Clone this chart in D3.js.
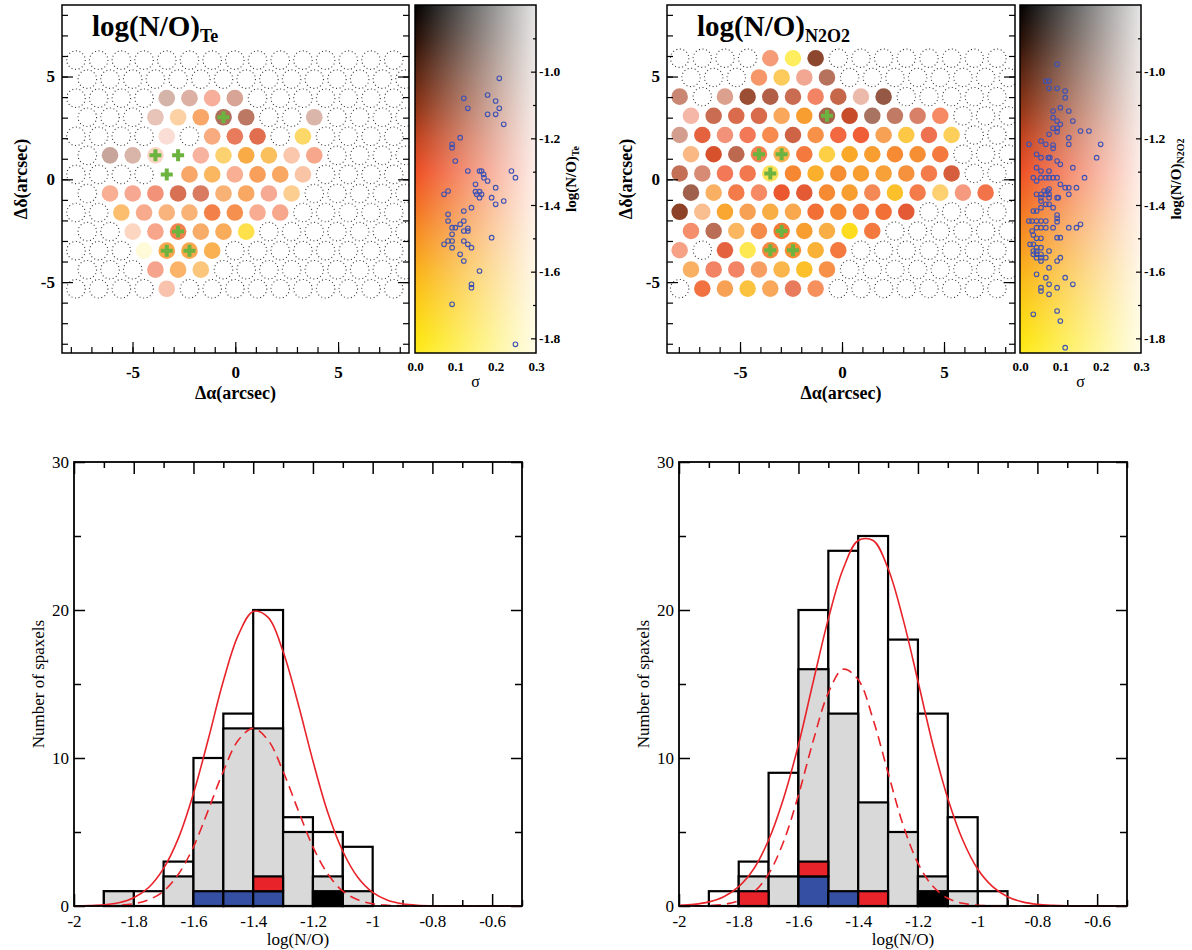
<!DOCTYPE html>
<html><head><meta charset="utf-8">
<script src="https://cdn.jsdelivr.net/npm/d3@7"></script>
<style>body{margin:0;background:#fff}svg{display:block}</style>
</head><body>
<svg id="chart" width="1192" height="950"></svg>
<script>
// ---------------- DATA ----------------
// Spaxel maps: [row, col, log(N/O), sigma]
const teSpaxels = [
 [2,4,-1.10,.21],[2,5,-1.15,.20],[2,6,-1.30,.18],[2,7,-1.15,.18],
 [3,3,-1.17,.23],[3,4,-1.49,.20],[3,5,-1.44,.11],[3,6,-1.10,.10],[3,7,-1.13,.11],[3,10,-1.13,.21],
 [4,4,-1.28,.27],[4,6,-1.40,.14],[4,7,-1.27,.09],[4,8,-1.25,.07],[4,10,-1.66,.12],
 [5,1,-1.07,.19],[5,2,-1.12,.21],[5,3,-1.35,.25],[5,5,-1.30,.19],[5,6,-1.61,.13],[5,7,-1.52,.06],[5,8,-1.56,.10],[5,9,-1.38,.21],[5,10,-1.33,.16],
 [6,5,-1.44,.11],[6,6,-1.52,.10],[6,7,-1.34,.17],[6,8,-1.44,.09],[6,9,-1.46,.10],[6,10,-1.40,.20],
 [7,1,-1.34,.17],[7,2,-1.30,.17],[7,3,-1.29,.13],[7,4,-1.22,.08],[7,5,-1.21,.10],[7,6,-1.45,.13],[7,7,-1.46,.10],[7,8,-1.31,.17],[7,9,-1.53,.17],
 [8,2,-1.52,.12],[8,3,-1.35,.16],[8,4,-1.44,.14],[8,5,-1.46,.13],[8,6,-1.37,.06],[8,7,-1.41,.07],[8,8,-1.33,.17],[8,9,-1.33,.16],
 [9,2,-1.40,.24],[9,3,-1.32,.16],[9,4,-1.36,.07],[9,5,-1.46,.11],[9,6,-1.49,.09],[9,7,-1.74,.08],
 [10,3,-1.82,.28],[10,4,-1.50,.07],[10,5,-1.50,.07],[10,6,-1.52,.08],
 [11,3,-1.30,.16],[11,4,-1.49,.11],[11,5,-1.53,.14],
 [12,4,-1.34,.21]
];
const n2o2Spaxels = [
 [0,4,-1.34,.13],[0,5,-1.80,.11],[0,6,-1.07,.04],
 [1,3,-1.37,.11],[1,4,-1.61,.10],[1,5,-1.28,.17],[1,6,-1.12,.10],
 [2,0,-1.15,.13],[2,2,-1.18,.17],[2,3,-1.10,.045],[2,4,-1.13,.07],[2,5,-1.18,.08],[2,6,-1.30,.10],[2,7,-1.18,.07],[2,8,-1.22,.21],[2,9,-1.06,.07],
 [3,0,-1.28,.20],[3,1,-1.18,.08],[3,2,-1.23,.07],[3,3,-1.22,.07],[3,4,-1.47,.09],[3,5,-1.51,.03],[3,6,-1.10,.08],[3,7,-1.20,.02],[3,8,-1.07,.11],[3,9,-1.14,.11],[3,10,-1.21,.11],[3,11,-1.33,.10],
 [4,0,-1.15,.17],[4,1,-1.27,.045],[4,2,-1.29,.13],[4,3,-1.30,.08],[4,4,-1.39,.07],[4,5,-1.20,.06],[4,6,-1.43,.06],[4,7,-1.31,.045],[4,8,-1.30,.03],[4,9,-1.46,.08],[4,10,-1.63,.07],[4,11,-1.29,.07],[4,12,-1.63,.10],
 [5,0,-1.45,.15],[5,1,-1.24,.02],[5,2,-1.15,.08],[5,3,-1.36,.07],[5,4,-1.52,.08],[5,5,-1.37,.045],[5,6,-1.66,.07],[5,7,-1.55,.02],[5,8,-1.51,.03],[5,9,-1.45,.03],[5,10,-1.46,.03],[5,11,-1.37,.045],
 [6,0,-1.16,.09],[6,1,-1.19,.13],[6,2,-1.30,.08],[6,3,-1.32,.07],[6,4,-1.72,.10],[6,5,-1.44,.03],[6,6,-1.57,.03],[6,7,-1.46,.03],[6,8,-1.51,.03],[6,9,-1.51,.04],[6,10,-1.45,.045],[6,11,-1.35,.06],[6,12,-1.23,.045],
 [7,0,-1.08,.08],[7,1,-1.49,.10],[7,2,-1.35,.06],[7,3,-1.33,.10],[7,4,-1.29,.02],[7,5,-1.27,.03],[7,6,-1.45,.03],[7,7,-1.51,.03],[7,8,-1.37,.08],[7,9,-1.63,.03],[7,10,-1.35,.06],[7,11,-1.60,.13],[7,12,-1.31,.14],[7,13,-1.32,.06],
 [8,0,-1.08,.03],[8,1,-1.44,.17],[8,2,-1.54,.03],[8,3,-1.46,.08],[8,4,-1.53,.06],[8,5,-1.50,.07],[8,6,-1.36,.03],[8,7,-1.44,.03],[8,8,-1.37,.045],[8,9,-1.36,.03],[8,10,-1.27,.03],
 [9,0,-1.33,.11],[9,1,-1.14,.09],[9,2,-1.52,.10],[9,3,-1.41,.06],[9,4,-1.39,.03],[9,5,-1.51,.03],[9,6,-1.53,.06],[9,7,-1.75,.02],[9,8,-1.37,.045],
 [10,0,-1.32,.15],[10,2,-1.27,.045],[10,3,-1.78,.09],[10,4,-1.42,.045],[10,5,-1.46,.03],[10,6,-1.56,.045],[10,7,-1.37,.045],
 [11,0,-1.49,.10],[11,1,-1.30,.10],[11,2,-1.30,.10],[11,3,-1.42,.10],[11,4,-1.55,.07],[11,5,-1.63,.03],[11,6,-1.43,.06],
 [12,1,-1.34,.045],[12,2,-1.46,.08],[12,3,-1.61,.06],[12,4,-1.47,.09],[12,5,-1.27,.09],[12,6,-1.38,.09]
];
// spaxels marked with a green cross: [row, col]
const markedSpaxels = [[3,6],[5,3],[5,4],[6,4],[9,4],[10,4],[10,5]];

// colour-bar scatter: [sigma, log(N/O)]
const teScatter = [
 [.209,-1.02],[.121,-1.08],[.180,-1.07],[.200,-1.088],[.131,-1.11],[.209,-1.11],[.180,-1.128],[.200,-1.128],[.220,-1.158],
 [.112,-1.198],[.092,-1.218],[.092,-1.228],[.100,-1.268],[.131,-1.298],[.160,-1.298],[.165,-1.298],[.170,-1.308],[.171,-1.318],
 [.180,-1.328],[.239,-1.298],[.249,-1.318],[.150,-1.338],[.200,-1.348],[.082,-1.358],[.072,-1.368],[.150,-1.36],[.160,-1.36],
 [.165,-1.368],[.153,-1.368],[.160,-1.378],[.190,-1.378],[.200,-1.398],[.220,-1.388],[.140,-1.408],[.121,-1.418],[.082,-1.428],
 [.082,-1.448],[.121,-1.448],[.112,-1.458],[.100,-1.468],[.092,-1.468],[.131,-1.47],[.131,-1.478],[.121,-1.478],[.092,-1.488],
 [.190,-1.498],[.082,-1.508],[.092,-1.508],[.121,-1.508],[.072,-1.518],[.131,-1.518],[.092,-1.528],[.140,-1.528],[.112,-1.548],
 [.121,-1.568],[.160,-1.598],[.140,-1.638],[.140,-1.648],[.092,-1.698],[.249,-1.818]
];
const n2o2Scatter = [
 [.092,-0.978],[.064,-1.028],[.072,-1.028],[.072,-1.05],[.092,-1.05],[.112,-1.058],[.112,-1.078],[.100,-1.108],[.121,-1.118],
 [.082,-1.118],[.082,-1.138],[.092,-1.148],[.100,-1.158],[.131,-1.148],[.082,-1.17],[.092,-1.18],[.092,-1.17],[.072,-1.188],
 [.150,-1.178],[.171,-1.178],[.121,-1.198],[.121,-1.218],[.022,-1.218],[.052,-1.208],[.064,-1.218],[.082,-1.22],[.082,-1.23],
 [.200,-1.218],[.041,-1.248],[.052,-1.258],[.070,-1.258],[.074,-1.258],[.190,-1.258],[.092,-1.268],[.100,-1.278],[.041,-1.288],
 [.052,-1.298],[.072,-1.298],[.131,-1.288],[.033,-1.318],[.052,-1.318],[.064,-1.318],[.072,-1.318],[.082,-1.318],[.092,-1.318],
 [.041,-1.328],[.160,-1.318],[.100,-1.338],[.112,-1.348],[.121,-1.348],[.140,-1.348],[.060,-1.358],[.068,-1.358],[.072,-1.352],
 [.041,-1.368],[.052,-1.368],[.064,-1.368],[.072,-1.368],[.052,-1.378],[.072,-1.378],[.092,-1.378],[.095,-1.378],[.121,-1.368],
 [.052,-1.388],[.072,-1.398],[.064,-1.398],[.052,-1.408],[.082,-1.408],[.033,-1.418],[.041,-1.418],[.092,-1.43],[.092,-1.44],
 [.092,-1.45],[.030,-1.448],[.041,-1.448],[.052,-1.448],[.022,-1.448],[.064,-1.448],[.052,-1.468],[.064,-1.468],[.041,-1.468],
 [.082,-1.468],[.121,-1.468],[.140,-1.468],[.150,-1.458],[.030,-1.478],[.033,-1.49],[.041,-1.50],[.052,-1.50],[.092,-1.498],
 [.100,-1.498],[.025,-1.518],[.033,-1.518],[.041,-1.528],[.052,-1.528],[.033,-1.538],[.041,-1.538],[.072,-1.538],[.033,-1.548],
 [.041,-1.548],[.052,-1.548],[.041,-1.558],[.052,-1.558],[.100,-1.558],[.064,-1.558],[.092,-1.568],[.052,-1.568],[.072,-1.588],
 [.041,-1.608],[.064,-1.618],[.112,-1.618],[.072,-1.638],[.131,-1.638],[.052,-1.648],[.052,-1.658],[.092,-1.648],[.072,-1.668],
 [.033,-1.728],[.092,-1.718],[.100,-1.748],[.112,-1.828]
];

// histograms: bins of width 0.1 starting at
const binStarts = [-2.0,-1.9,-1.8,-1.7,-1.6,-1.5,-1.4,-1.3,-1.2,-1.1,-1.0,-0.9,-0.8,-0.7,-0.6];
const teAll   = [0,1,1,3,10,13,20,6,5,4,0,0,0,0,0];
const teGrey  = [0,1,0,2,7,12,12,5,2,1,0,0,0,0,0];
const teBlue  = [0,0,0,0,1,1,1,0,0,0,0,0,0,0,0];
const teRed   = [0,0,0,0,0,0,1,0,0,0,0,0,0,0,0];
const teBlack = [0,0,0,0,0,0,0,0,1,0,0,0,0,0,0];
const n2All   = [0,1,3,9,20,24,25,18,13,6,1,0,0,0,0];
const n2Grey  = [0,0,2,2,16,13,7,5,2,1,0,0,0,0,0];
const n2Blue  = [0,0,0,0,2,1,0,0,0,0,0,0,0,0,0];
const n2Red   = [0,0,1,0,1,0,1,0,0,0,0,0,0,0,0];
const n2Black = [0,0,0,0,0,0,0,0,1,0,0,0,0,0,0];

// fitted curves
const fitX      = [-2.0,-1.95,-1.9,-1.85,-1.8,-1.75,-1.7,-1.65,-1.6,-1.55,-1.5,-1.45,-1.4,-1.35,-1.3,-1.25,-1.2,-1.15,-1.1,-1.05,-1.0,-0.95,-0.9,-0.85,-0.8,-0.75,-0.7,-0.6,-0.5];
const teFitAll  = [0.01,0.03,0.08,0.22,0.56,1.25,2.54,4.6,7.6,11.3,15.2,18.3,19.9,19.5,17.2,13.7,9.8,6.3,3.7,1.94,0.92,0.39,0.15,0.05,0.015,0,0,0,0];
const teFitGrey = [0,0.003,0.013,0.05,0.15,0.42,1.0,2.16,4.0,6.5,9.1,11.2,12,11.2,9.1,6.5,4.0,2.16,1.0,0.42,0.15,0.05,0.013,0,0,0,0,0,0];
const n2FitAll  = [0.04,0.11,0.28,0.63,1.31,2.5,4.46,7.27,10.9,15.2,19.4,22.8,24.7,24.7,22.8,19.4,15.2,10.9,7.27,4.46,2.5,1.31,0.63,0.28,0.11,0.04,0.01,0,0];
const n2FitGrey = [0,0.007,0.03,0.11,0.35,0.93,2.17,4.34,7.5,11.2,14.4,16.0,15.3,12.6,9.0,5.5,2.9,1.33,0.52,0.18,0.05,0.01,0,0,0,0,0,0,0];

// ticks
const mapMinorTicks = [-8,-7,-6,-5,-4,-3,-2,-1,0,1,2,3,4,5,6,7,8];
const mapMajorTicks = [-5,0,5];
const cbMajorTicks = [-1.0,-1.2,-1.4,-1.6,-1.8];
const cbMinorTicks = [-0.9,-1.1,-1.3,-1.5,-1.7];
const sigmaTicks = [0.0,0.1,0.2,0.3];
const histMajorX = [-2,-1.8,-1.6,-1.4,-1.2,-1,-0.8,-0.6];
const histMinorX = [-1.9,-1.7,-1.5,-1.3,-1.1,-0.9,-0.7,-0.5];
const histMajorY = [0,10,20,30];
const histMinorY = [5,15,25];

// colour map stops (value -> colour at sigma = 0)
const cmapValues = [-0.8,-0.9,-1.0,-1.1,-1.2,-1.3,-1.4,-1.5,-1.6,-1.7,-1.8,-1.85];
const cmapColors = ["#000000","#280f05","#5a230f","#8c3214","#c3411c","#ee4e23","#f36e20","#f7911e","#fab216","#fccd12","#fde40f","#feea1a"];

// ---------------- DRAW ----------------
const svg = d3.select("#chart");
const SERIF = "'Liberation Serif','Times New Roman',serif";
svg.append("rect").attr("width",1192).attr("height",950).attr("fill","#fff");
const defs = svg.append("defs");

const baseScale = d3.scaleLinear().domain(cmapValues).range(cmapColors).clamp(true);
const whiteMix = d3.scaleLinear().domain([0,0.3]).range([0,0.9]).clamp(true);
const spaxelColor = (v,s) => d3.interpolateRgb(baseScale(v), "#ffffff")(whiteMix(s));

function styleAxis(g, size, weight){
  g.select(".domain").remove();
  g.attr("font-family",SERIF);
  g.selectAll("line").attr("stroke","#000").attr("stroke-width",1.2);
  g.selectAll("text").attr("font-family",SERIF).attr("font-size",size).attr("font-weight",weight).attr("fill","#000");
}

function drawMap(cfg){
  const g = svg.append("g");
  const x = d3.scaleLinear().domain(cfg.xDomain).range([cfg.fx0, cfg.fx1]);
  const y = d3.scaleLinear().domain(cfg.yDomain).range([cfg.fy1, cfg.fy0]);
  const clipId = "clip" + cfg.id;
  defs.append("clipPath").attr("id",clipId).append("rect")
    .attr("x",cfg.fx0).attr("y",cfg.fy0).attr("width",cfg.fx1-cfg.fx0).attr("height",cfg.fy1-cfg.fy0);
  const gridX = (r,c) => cfg.grid.x0 + c*cfg.grid.dx + (r%2 ? cfg.grid.dx/2 : 0);
  const gridY = r => cfg.grid.y0 - r*cfg.grid.dy;
  const key = (r,c) => r + "_" + c;
  const filled = new Set(cfg.data.map(d => key(d[0],d[1])));
  const marked = new Set(markedSpaxels.map(d => key(d[0],d[1])));
  const empties = [];
  for (let r = 0; r < cfg.grid.rows; r++) for (let c = 0; c < cfg.grid.cols; c++){
    if (!filled.has(key(r,c)) && !marked.has(key(r,c))) empties.push([r,c]);
  }
  const rDot = x(0.45) - x(0), rFill = x(0.405) - x(0);
  const pg = g.append("g").attr("clip-path",`url(#${clipId})`);
  pg.selectAll("circle.empty").data(empties).enter().append("circle").attr("class","empty")
    .attr("cx", d => x(gridX(d[0],d[1]))).attr("cy", d => y(gridY(d[0])))
    .attr("r", rDot).attr("fill","none").attr("stroke","#333").attr("stroke-width",1.1)
    .attr("stroke-dasharray","1,2.6");
  pg.selectAll("circle.fill").data(cfg.data).enter().append("circle").attr("class","fill")
    .attr("cx", d => x(gridX(d[0],d[1]))).attr("cy", d => y(gridY(d[0])))
    .attr("r", rFill).attr("fill", d => spaxelColor(d[2], d[3]));
  const cross = d3.symbol().type(d3.symbolCross).size(80);
  pg.selectAll("path.mark").data(markedSpaxels).enter().append("path").attr("class","mark")
    .attr("d", cross).attr("fill","#6cb33f")
    .attr("transform", d => `translate(${x(gridX(d[0],d[1]))},${y(gridY(d[0]))})`);

  // axes
  const ab = g.append("g").attr("transform",`translate(0,${cfg.fy1})`)
    .call(d3.axisBottom(x).tickValues(mapMinorTicks).tickSize(-6).tickFormat(""));
  styleAxis(ab,16,"bold");
  const abM = g.append("g").attr("transform",`translate(0,${cfg.fy1})`)
    .call(d3.axisBottom(x).tickValues(mapMajorTicks).tickSize(-11).tickPadding(13).tickFormat(d => String(d)));
  styleAxis(abM,17,"bold");
  const al = g.append("g").attr("transform",`translate(${cfg.fx0},0)`)
    .call(d3.axisLeft(y).tickValues(mapMinorTicks).tickSize(-6).tickFormat(""));
  styleAxis(al,16,"bold");
  const alM = g.append("g").attr("transform",`translate(${cfg.fx0},0)`)
    .call(d3.axisLeft(y).tickValues(mapMajorTicks).tickSize(-11).tickPadding(7).tickFormat(d => String(d)));
  styleAxis(alM,17,"bold");
  const ar = g.append("g").attr("transform",`translate(${cfg.fx1},0)`)
    .call(d3.axisRight(y).tickValues(mapMinorTicks).tickSize(-6).tickFormat(""));
  styleAxis(ar,16,"bold");
  const arM = g.append("g").attr("transform",`translate(${cfg.fx1},0)`)
    .call(d3.axisRight(y).tickValues(mapMajorTicks).tickSize(-11).tickFormat(""));
  styleAxis(arM,16,"bold");
  g.append("rect").attr("x",cfg.fx0).attr("y",cfg.fy0).attr("width",cfg.fx1-cfg.fx0).attr("height",cfg.fy1-cfg.fy0)
    .attr("fill","none").attr("stroke","#000").attr("stroke-width",1.5);

  // titles
  const t = g.append("text").attr("x",cfg.titleX).attr("y",36).attr("font-family",SERIF).attr("font-weight","bold").attr("font-size",29);
  t.append("tspan").text("log(N/O)");
  t.append("tspan").attr("font-size",18).attr("dy",6).text(cfg.sub);
  g.append("text").attr("x",(x(cfg.xDomain[0])+x(cfg.xDomain[1]))/2).attr("y",399).attr("text-anchor","middle")
    .attr("font-family",SERIF).attr("font-weight","bold").attr("font-size",18).text("Δα(arcsec)");
  g.append("text").attr("transform",`translate(${cfg.fx0-35},${(cfg.fy0+cfg.fy1)/2}) rotate(-90)`).attr("text-anchor","middle")
    .attr("font-family",SERIF).attr("font-weight","bold").attr("font-size",18).text("Δδ(arcsec)");

  // colour bar
  const cx = d3.scaleLinear().domain([0,0.3]).range([cfg.cb0, cfg.cb1]);
  const cy = d3.scaleLinear().domain([-1.844,-0.8]).range([cfg.fy1, cfg.fy0]);
  const gv = defs.append("linearGradient").attr("id","gv"+cfg.id).attr("gradientUnits","userSpaceOnUse")
    .attr("x1",0).attr("x2",0).attr("y1",cy(-0.8)).attr("y2",cy(-1.844));
  cmapValues.forEach(v => gv.append("stop").attr("offset",(cy(v)-cy(-0.8))/(cy(-1.844)-cy(-0.8))).attr("stop-color",baseScale(v)));
  const gh = defs.append("linearGradient").attr("id","gh"+cfg.id).attr("gradientUnits","userSpaceOnUse")
    .attr("x1",cx(0)).attr("x2",cx(0.3)).attr("y1",0).attr("y2",0);
  gh.append("stop").attr("offset",0).attr("stop-color","#fff").attr("stop-opacity",whiteMix(0));
  gh.append("stop").attr("offset",1).attr("stop-color","#fff").attr("stop-opacity",whiteMix(0.3));
  g.append("rect").attr("x",cx(0)).attr("y",cy(-0.8)).attr("width",cx(0.3)-cx(0)).attr("height",cy(-1.844)-cy(-0.8)).attr("fill",`url(#gv${cfg.id})`);
  g.append("rect").attr("x",cx(0)).attr("y",cy(-0.8)).attr("width",cx(0.3)-cx(0)).attr("height",cy(-1.844)-cy(-0.8)).attr("fill",`url(#gh${cfg.id})`);
  g.selectAll("circle.sc").data(cfg.scatter).enter().append("circle").attr("class","sc")
    .attr("cx", d => cx(d[0])).attr("cy", d => cy(d[1])).attr("r",2.3)
    .attr("fill","none").attr("stroke","#3e52b4").attr("stroke-width",1.1);
  const cr = g.append("g").attr("transform",`translate(${cfg.cb1},0)`)
    .call(d3.axisRight(cy).tickValues(cbMajorTicks).tickSize(-5).tickPadding(3).tickFormat(d => d.toFixed(1)));
  styleAxis(cr,13.5,"bold");
  const crm = g.append("g").attr("transform",`translate(${cfg.cb1},0)`)
    .call(d3.axisRight(cy).tickValues(cbMinorTicks).tickSize(-3).tickFormat(""));
  styleAxis(crm,13,"bold");
  const cb = g.append("g").attr("transform",`translate(0,${cfg.fy1})`)
    .call(d3.axisBottom(cx).tickValues(sigmaTicks).tickSize(0).tickPadding(9).tickFormat(d => d.toFixed(1)));
  styleAxis(cb,13,"bold");
  g.append("rect").attr("x",cx(0)).attr("y",cy(-0.8)).attr("width",cx(0.3)-cx(0)).attr("height",cy(-1.844)-cy(-0.8))
    .attr("fill","none").attr("stroke","#000").attr("stroke-width",1.5);
  g.append("text").attr("x",(cx(0)+cx(0.3))/2).attr("y",387).attr("text-anchor","middle")
    .attr("font-family",SERIF).attr("font-size",16).text("σ");
  const ct = g.append("text").attr("transform",`translate(${cfg.cb1+40},${(cfg.fy0+cfg.fy1)/2}) rotate(-90)`).attr("text-anchor","middle")
    .attr("font-family",SERIF).attr("font-weight","bold").attr("font-size",15);
  ct.append("tspan").text("log(N/O)");
  ct.append("tspan").attr("font-size",10).attr("dy",3).text(cfg.sub);
}

drawMap({id:"te", data:teSpaxels, scatter:teScatter, sub:"Te", titleX:92,
  fx0:62, fx1:409, fy0:5, fy1:353, xDomain:[-8.43,8.45], yDomain:[-8.45,8.48],
  grid:{x0:-7.75, dx:1.104, y0:5.80, dy:0.927, rows:13, cols:15}, cb0:415, cb1:536});
drawMap({id:"n2", data:n2o2Spaxels, scatter:n2o2Scatter, sub:"N2O2", titleX:697,
  fx0:667, fx1:1015, fy0:5, fy1:353, xDomain:[-8.58,8.48], yDomain:[-8.45,8.48],
  grid:{x0:-7.96, dx:1.111, y0:5.89, dy:0.934, rows:13, cols:15}, cb0:1020, cb1:1141});

function drawHist(cfg){
  const g = svg.append("g");
  const x = d3.scaleLinear().domain([-2,-0.5]).range([cfg.x0,cfg.x1]);
  const y = d3.scaleLinear().domain([0,30]).range([cfg.y1,cfg.y0]);
  const axes = [
    [d3.axisBottom(x).tickValues(histMinorX).tickSize(-6).tickFormat(""), `translate(0,${cfg.y1})`, 16],
    [d3.axisBottom(x).tickValues(histMajorX).tickSize(-12).tickPadding(9).tickFormat(d => String(d)), `translate(0,${cfg.y1})`, 17],
    [d3.axisTop(x).tickValues(histMinorX).tickSize(-6).tickFormat(""), `translate(0,${cfg.y0})`, 16],
    [d3.axisTop(x).tickValues(histMajorX).tickSize(-12).tickFormat(""), `translate(0,${cfg.y0})`, 16],
    [d3.axisLeft(y).tickValues(histMinorY).tickSize(-7).tickFormat(""), `translate(${cfg.x0},0)`, 16],
    [d3.axisLeft(y).tickValues(histMajorY).tickSize(-11).tickPadding(5).tickFormat(d => String(d)), `translate(${cfg.x0},0)`, 17],
    [d3.axisRight(y).tickValues(histMinorY).tickSize(-7).tickFormat(""), `translate(${cfg.x1},0)`, 16],
    [d3.axisRight(y).tickValues(histMajorY).tickSize(-11).tickFormat(""), `translate(${cfg.x1},0)`, 16]
  ];
  axes.forEach(a => { const ag = g.append("g").attr("transform",a[1]).call(a[0]); styleAxis(ag,a[2],"normal"); ag.selectAll("line").attr("stroke-width",1.5); });

  function bars(counts, base, fill){
    const rows = binStarts.map((b,i) => ({b, c:counts[i], o: base ? base[i] : 0})).filter(d => d.c > 0);
    g.append("g").selectAll("rect").data(rows).enter().append("rect")
      .attr("x", d => x(d.b)).attr("width", d => x(d.b+0.1) - x(d.b))
      .attr("y", d => y(d.o + d.c)).attr("height", d => y(d.o) - y(d.o + d.c))
      .attr("fill", fill).attr("stroke","#000").attr("stroke-width",2.2);
  }
  bars(cfg.all, null, "#ffffff");
  bars(cfg.grey, null, "#d9d9d9");
  bars(cfg.blue, null, "#3550a2");
  bars(cfg.red, cfg.blue, "#e8232a");
  bars(cfg.black, null, "#000000");

  const line = d3.line().x((d,i) => x(fitX[i])).y(d => y(Math.max(0,d))).curve(d3.curveCatmullRom.alpha(0.5));
  g.append("path").attr("d", line(cfg.fitAll)).attr("fill","none").attr("stroke","#e8232a").attr("stroke-width",1.6);
  g.append("path").attr("d", line(cfg.fitGrey)).attr("fill","none").attr("stroke","#e8232a").attr("stroke-width",1.6).attr("stroke-dasharray","10,6");

  g.append("rect").attr("x",cfg.x0).attr("y",cfg.y0).attr("width",cfg.x1-cfg.x0).attr("height",cfg.y1-cfg.y0)
    .attr("fill","none").attr("stroke","#000").attr("stroke-width",1.8);
  g.append("text").attr("x",(cfg.x0+cfg.x1)/2).attr("y",cfg.y1+39).attr("text-anchor","middle")
    .attr("font-family",SERIF).attr("font-size",17).text("log(N/O)");
  g.append("text").attr("transform",`translate(${cfg.x0-30},${(cfg.y0+cfg.y1)/2}) rotate(-90)`).attr("text-anchor","middle")
    .attr("font-family",SERIF).attr("font-size",17).text("Number of spaxels");
}

drawHist({x0:74, x1:522, y0:462, y1:906, all:teAll, grey:teGrey, blue:teBlue, red:teRed, black:teBlack, fitAll:teFitAll, fitGrey:teFitGrey});
drawHist({x0:679, x1:1127, y0:462, y1:906, all:n2All, grey:n2Grey, blue:n2Blue, red:n2Red, black:n2Black, fitAll:n2FitAll, fitGrey:n2FitGrey});
</script>
</body></html>
